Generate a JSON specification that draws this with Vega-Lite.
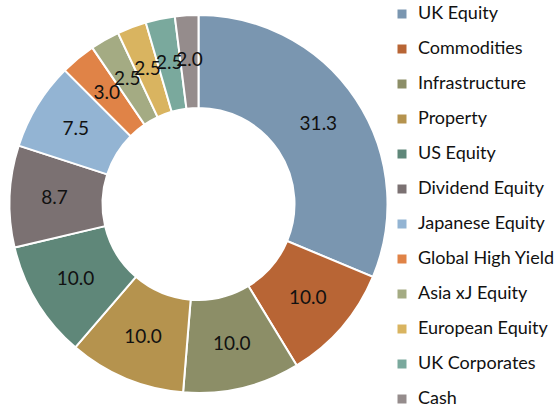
{
  "$schema": "https://vega.github.io/schema/vega-lite/v6.json",
  "width": 397,
  "height": 408,
  "padding": 0,
  "background": "white",
  "config": {"view": {"stroke": null}, "font": "Lato"},
  "data": {"values": [
    {"k": 1, "asset": "UK Equity", "v": 31.3},
    {"k": 2, "asset": "Commodities", "v": 10.0},
    {"k": 3, "asset": "Infrastructure", "v": 10.0},
    {"k": 4, "asset": "Property", "v": 10.0},
    {"k": 5, "asset": "US Equity", "v": 10.0},
    {"k": 6, "asset": "Dividend Equity", "v": 8.7},
    {"k": 7, "asset": "Japanese Equity", "v": 7.5},
    {"k": 8, "asset": "Global High Yield", "v": 3.0},
    {"k": 9, "asset": "Asia xJ Equity", "v": 2.5},
    {"k": 10, "asset": "European Equity", "v": 2.5},
    {"k": 11, "asset": "UK Corporates", "v": 2.5},
    {"k": 12, "asset": "Cash", "v": 2.0}
  ]},
  "encoding": {
    "theta": {"field": "v", "type": "quantitative", "stack": true},
    "order": {"field": "k", "type": "quantitative"}
  },
  "layer": [
    {
      "mark": {"type": "arc", "outerRadius": 189, "innerRadius": 96, "stroke": "white", "strokeWidth": 2},
      "encoding": {
        "color": {
          "field": "asset", "type": "nominal",
          "scale": {
            "domain": ["UK Equity", "Commodities", "Infrastructure", "Property", "US Equity", "Dividend Equity", "Japanese Equity", "Global High Yield", "Asia xJ Equity", "European Equity", "UK Corporates", "Cash"],
            "range": ["#7A96B0", "#B86535", "#8C8E67", "#B5934E", "#5F8779", "#7B7172", "#93B4D3", "#E08347", "#A4AB83", "#D9B460", "#7AA99D", "#958C8C"]
          },
          "legend": {
            "title": null,
            "orient": "none",
            "legendX": 393,
            "legendY": 5,
            "symbolType": "square",
            "symbolSize": 81,
            "symbolStrokeWidth": 0,
            "labelFontSize": 18,
            "labelFont": "Lato",
            "labelColor": "#111111",
            "labelOffset": 7,
            "rowPadding": 17,
            "labelLimit": 160
          }
        }
      }
    },
    {
      "mark": {"type": "text", "radius": 144, "fontSize": 19, "font": "Lato", "color": "#111111"},
      "encoding": {
        "text": {"field": "v", "type": "quantitative", "format": ".1f"}
      }
    }
  ]
}
